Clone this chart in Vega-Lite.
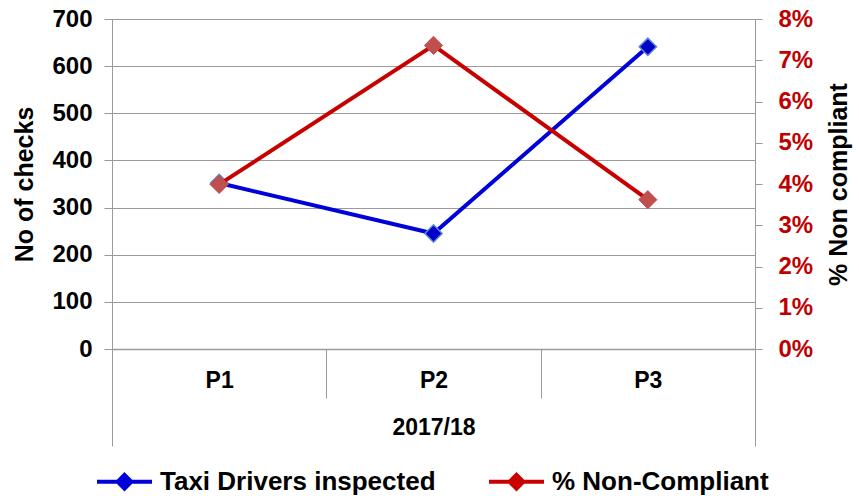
{
  "$schema": "https://vega.github.io/schema/vega-lite/v6.json",
  "width": 643,
  "height": 330,
  "autosize": "none",
  "padding": {"left": 112, "top": 19, "right": 104, "bottom": 147},
  "background": "white",
  "config": {
    "view": {"stroke": null},
    "font": "Liberation Sans",
    "axis": {"labelFont": "Liberation Sans", "titleFont": "Liberation Sans", "labelFontWeight": "bold", "titleFontWeight": "bold", "labelColor": "black", "titleColor": "black", "domainColor": "#9a9a9a", "tickColor": "#9a9a9a", "gridColor": "#9a9a9a"}
  },
  "datasets": {
    "main": [
      {"period": "P1", "taxi": 352, "pct": 0.0399},
      {"period": "P2", "taxi": 245, "pct": 0.0736},
      {"period": "P3", "taxi": 641, "pct": 0.0362}
    ],
    "grp": [{"year": "2017/18"}]
  },
  "layer": [
    {
      "data": {"name": "main"},
      "encoding": {
        "x": {"field": "period", "type": "nominal", "sort": null,
          "scale": {"type": "band", "paddingInner": 0, "paddingOuter": 0},
          "axis": {"orient": "bottom", "title": null, "labelAngle": 0, "tickBand": "extent", "tickSize": 49, "labelPadding": -29, "labelFontSize": 23, "domainWidth": 1.5}},
        "y": {"field": "taxi", "type": "quantitative",
          "scale": {"domain": [0, 700], "nice": false},
          "axis": {"orient": "left", "title": "No of checks", "values": [0,100,200,300,400,500,600,700], "grid": true, "tickSize": 8, "labelPadding": 12, "labelFontSize": 24, "titleFontSize": 25, "titlePadding": 14, "domain": true}}
      },
      "layer": [
        {"mark": {"type": "line", "strokeWidth": 4},
         "encoding": {"color": {"datum": "Taxi Drivers inspected", "type": "nominal",
           "scale": {"domain": ["Taxi Drivers inspected", "% Non-Compliant"], "range": ["#0000D8", "#C80000"]},
           "legend": {"title": null, "orient": "none", "legendX": -17, "legendY": 433, "direction": "horizontal",
             "symbolType": "M-1,0H1M0,-0.25L0.25,0L0,0.25L-0.25,0Z", "symbolSize": 3025, "symbolStrokeWidth": 4,
             "labelFont": "Liberation Sans", "labelFontWeight": "bold", "labelFontSize": 26, "labelColor": "black", "labelOffset": 6, "labelLimit": 0, "columnPadding": 45,
             "encode": {"symbols": {"update": {"fill": {"scale": "color", "field": "value"}}}}}}}},
        {"mark": {"type": "point", "shape": "diamond", "size": 300, "filled": true, "fill": "#0000C8", "stroke": "#5B8BD0", "strokeWidth": 1.5, "opacity": 1}}
      ]
    },
    {
      "data": {"name": "main"},
      "encoding": {
        "x": {"field": "period", "type": "nominal", "sort": null,
          "scale": {"type": "band", "paddingInner": 0, "paddingOuter": 0}, "axis": null},
        "y": {"field": "pct", "type": "quantitative",
          "scale": {"domain": [0, 0.08], "nice": false},
          "axis": {"orient": "right", "title": "% Non compliant", "titleAngle": 270, "titleBaseline": "top", "values": [0,0.01,0.02,0.03,0.04,0.05,0.06,0.07,0.08], "format": ".0%", "grid": false, "tickSize": 7, "labelPadding": 16, "labelFontSize": 24, "labelColor": "#C00000", "titleFontSize": 25, "titlePadding": 14}}
      },
      "layer": [
        {"mark": {"type": "line", "strokeWidth": 4},
         "encoding": {"color": {"datum": "% Non-Compliant", "type": "nominal"}}},
        {"mark": {"type": "point", "shape": "diamond", "size": 330, "filled": true, "fill": "#C0504D", "stroke": "#C0504D", "strokeWidth": 1, "opacity": 1}}
      ]
    },
    {
      "data": {"name": "grp"},
      "mark": {"type": "rule", "opacity": 0},
      "encoding": {
        "x": {"field": "year", "type": "nominal",
          "scale": {"type": "band", "paddingInner": 0, "paddingOuter": 0},
          "axis": {"orient": "bottom", "title": null, "labelAngle": 0, "tickBand": "extent", "tickSize": 97, "labelPadding": -30, "labelFontSize": 23, "domain": false}}
      }
    }
  ],
  "resolve": {"scale": {"x": "independent", "y": "independent"}}
}
